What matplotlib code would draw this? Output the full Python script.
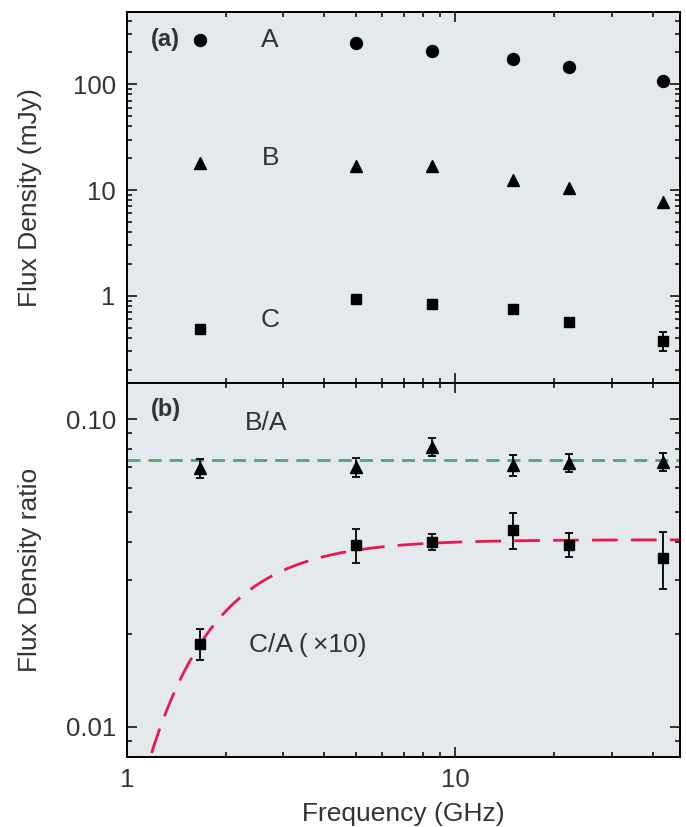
import matplotlib
matplotlib.use('Agg')
import matplotlib.pyplot as plt
import numpy as np
from matplotlib.ticker import LogLocator, NullFormatter, FixedLocator, FixedFormatter

# frequencies (GHz)
freq = [1.67, 5.0, 8.5, 15.0, 22.3, 43.0]

# panel (a): flux densities (mJy)
flux_a = [262, 247, 208, 173, 147, 107]
flux_b = [17.9, 16.9, 16.9, 12.4, 10.5, 7.7]
flux_c = [0.484, 0.94, 0.835, 0.753, 0.571, 0.378]
flux_c_err = [0.02, 0.05, 0.03, 0.05, 0.02, 0.078]

# panel (b): ratios
ratio_ba = [0.0693, 0.0698, 0.0814, 0.0710, 0.0722, 0.0728]
ratio_ba_err = [0.0048, 0.0050, 0.0055, 0.0055, 0.0050, 0.0050]
ratio_ca = [0.01866, 0.0390, 0.0400, 0.0438, 0.0391, 0.0355]
ratio_ca_err = [0.0022, 0.0050, 0.0024, 0.0058, 0.0035, 0.0075]

# fit lines
ba_mean = 0.0738
ca_amp = 0.0406
ca_turnover = 1.485
ca_index = 2.1

bg = '#e3e9ed'
txt = '#333333'

plt.rcParams['font.family'] = ['Liberation Sans', 'DejaVu Sans']
plt.rcParams['font.size'] = 18
plt.rcParams['lines.scale_dashes'] = False

fig = plt.figure(figsize=(6.86, 8.27), dpi=100)
ax1 = fig.add_axes([0.1851, 0.5369, 0.8061, 0.4490])
ax2 = fig.add_axes([0.1851, 0.0850, 0.8061, 0.4515], sharex=ax1)

for ax in (ax1, ax2):
    ax.set_facecolor(bg)
    ax.set_xscale('log')
    ax.set_yscale('log')
    for s in ax.spines.values():
        s.set_linewidth(1.4)
    ax.tick_params(which='both', direction='in', top=True, right=True,
                   labelcolor=txt, labelsize=18.5, pad=8)
    ax.tick_params(which='major', length=7, width=1.1)
    ax.tick_params(which='minor', length=3.5, width=1.1)
    ax.yaxis.set_minor_locator(LogLocator(base=10, subs=np.arange(2, 10)))
    ax.yaxis.set_minor_formatter(NullFormatter())
    ax.xaxis.set_minor_formatter(NullFormatter())

ax1.set_xlim(1, 48.5)
ax1.set_ylim(0.15, 485)
ax2.set_ylim(0.008, 0.131)

# panel (a)
ax1.plot(freq, flux_a, 'o', color='black', markersize=8.6)
ax1.plot(freq, flux_b, '^', color='black', markersize=8)
ax1.errorbar(freq, flux_c, yerr=flux_c_err, fmt='s', color='black',
             markersize=7.8, capsize=3, elinewidth=1.3, capthick=1.3)

ax1.yaxis.set_major_locator(FixedLocator([1, 10, 100]))
ax1.yaxis.set_major_formatter(FixedFormatter(['1', '10', '100']))
ax1.tick_params(axis='x', labelbottom=False)
ax1.set_ylabel('Flux Density (mJy)', color=txt, fontsize=19)
ax1.yaxis.set_label_coords(-0.153, 0.5)

ax1.text(0.044, 0.924, '(a)', transform=ax1.transAxes, fontsize=17,
         fontweight='bold', color=txt, va='center')
ax1.text(0.259, 0.924, 'A', transform=ax1.transAxes, fontsize=19, color=txt,
         ha='center', va='center')
ax1.text(0.259, 0.606, 'B', transform=ax1.transAxes, fontsize=19, color=txt,
         ha='center', va='center')
ax1.text(0.259, 0.170, 'C', transform=ax1.transAxes, fontsize=19, color=txt,
         ha='center', va='center')

# panel (b)
ax2.axhline(ba_mean, color='#5a9e78', lw=2, linestyle=(0, (9.4, 5.8)))
nu = np.logspace(0, np.log10(48.5), 400)
ax2.plot(nu, ca_amp * np.exp(-(ca_turnover / nu) ** ca_index),
         color='#e8194f', lw=2, linestyle=(0, (18.5, 9.5)))

ax2.errorbar(freq, ratio_ba, yerr=ratio_ba_err, fmt='^', color='black',
             markersize=8, capsize=3, elinewidth=1.3, capthick=1.3)
ax2.errorbar(freq, ratio_ca, yerr=ratio_ca_err, fmt='s', color='black',
             markersize=7.8, capsize=3, elinewidth=1.3, capthick=1.3)

ax2.yaxis.set_major_locator(FixedLocator([0.01, 0.1]))
ax2.yaxis.set_major_formatter(FixedFormatter(['0.01', '0.10']))
ax2.xaxis.set_major_locator(FixedLocator([1, 10]))
ax2.xaxis.set_major_formatter(FixedFormatter(['1', '10']))
ax2.xaxis.set_minor_locator(LogLocator(base=10, subs=np.arange(2, 10)))
ax2.set_ylabel('Flux Density ratio', color=txt, fontsize=19)
ax2.yaxis.set_label_coords(-0.153, 0.5)
ax2.set_xlabel('Frequency (GHz)', color=txt, fontsize=19, labelpad=7)

ax2.text(0.044, 0.929, '(b)', transform=ax2.transAxes, fontsize=17,
         fontweight='bold', color=txt, va='center')
ax2.text(0.252, 0.894, 'B/A', transform=ax2.transAxes, fontsize=19,
         color=txt, ha='center', va='center')
ax2.text(0.22, 0.299, 'C/A (\u2009\u00d710)', transform=ax2.transAxes,
         fontsize=19, color=txt, ha='left', va='center')

fig.savefig('out.png', dpi=100)
